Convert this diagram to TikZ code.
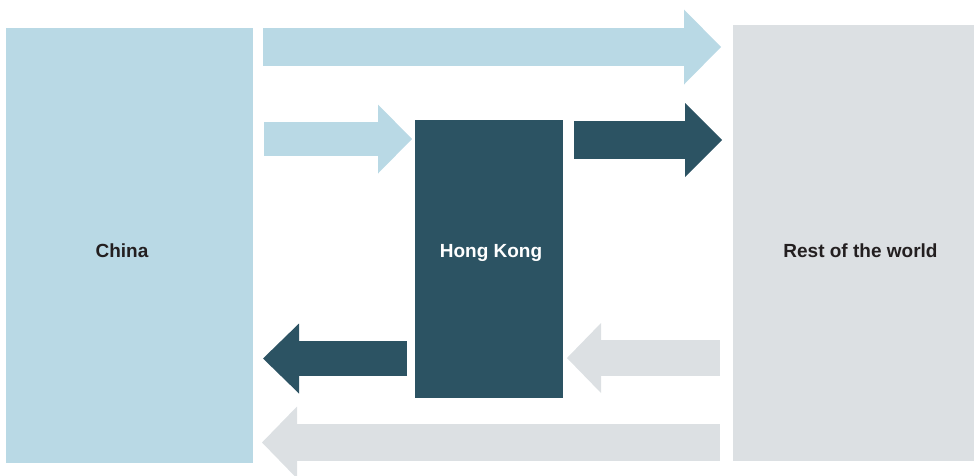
\documentclass[tikz,border=0pt]{standalone}
\usepackage{fontspec}
\setmainfont{Liberation Sans}
\usetikzlibrary{arrows.meta}

\definecolor{paleblue}{RGB}{185,217,229}
\definecolor{deepteal}{RGB}{44,83,99}
\definecolor{palegrey}{RGB}{220,224,227}
\definecolor{inkdark}{RGB}{35,31,32}

\begin{document}
\begin{tikzpicture}[x=1pt, y=-1pt,
  region/.style = {inner sep=0pt, outer sep=0pt},
  place/.style = {anchor=base, font=\fontsize{19}{22}\selectfont\bfseries, text=inkdark},
  fat/.style n args = {4}{draw=#1, line width=#2pt, line cap=butt,
    -{Triangle[width=#3pt, length=#4pt, line width=0pt]}}
]
\useasboundingbox (0,0) rectangle (974,475);

% the three places
\node[region, fill=paleblue, minimum width=247pt, minimum height=435pt] (china) at (129.5,245.5) {};
\node[region, fill=deepteal, minimum width=148pt, minimum height=278pt] (hk) at (489,259) {};
\node[region, fill=palegrey, minimum width=241pt, minimum height=436pt] (row) at (853.5,243) {};

\node[place] (chinatext) at (122,257) {China};
\node[place, text=white] (hktext) at (491,257) {Hong Kong};
\node[place] (rowtext) at (860.5,257) {Rest of the world};

% flows out
\draw[fat={paleblue}{38}{75}{37}, shorten <=10pt, shorten >=12pt] (china.east |- 0,47) -- (row.west |- 0,47);
\draw[fat={paleblue}{34}{69}{34}, shorten <=11pt, shorten >=3pt] (china.east |- 0,139) -- (hk.west |- 0,139);
\draw[fat={deepteal}{38}{74}{37}, shorten <=11pt, shorten >=11pt] (hk.east |- 0,140) -- (row.west |- 0,140);
% flows back
\draw[fat={deepteal}{35}{70}{36}, shorten <=8pt, shorten >=10pt] (hk.west |- 0,358.5) -- (china.east |- 0,358.5);
\draw[fat={palegrey}{36}{70}{34}, shorten <=13pt, shorten >=4pt] (row.west |- 0,358) -- (hk.east |- 0,358);
\draw[fat={palegrey}{37}{72}{35}, shorten <=13pt, shorten >=9pt] (row.west |- 0,442.5) -- (china.east |- 0,442.5);

\end{tikzpicture}
\end{document}
